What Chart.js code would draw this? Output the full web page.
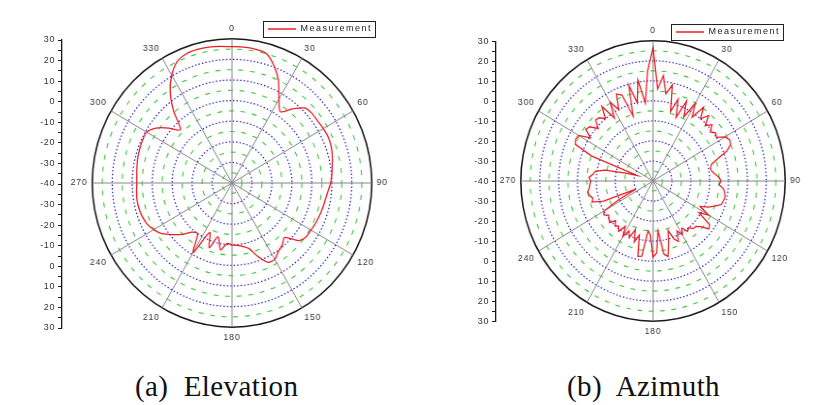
<!DOCTYPE html>
<html><head><meta charset="utf-8">
<script src="https://cdn.jsdelivr.net/npm/chart.js@4.4.1/dist/chart.umd.min.js"></script>
<style>
html,body{margin:0;padding:0;background:#fff;}
#wrap{position:relative;width:822px;height:405px;overflow:hidden;background:#fff;}
#wrap canvas{position:absolute;}
.cap{position:absolute;font-family:'Liberation Serif','DejaVu Serif',serif;font-size:29px;line-height:29px;letter-spacing:0.4px;white-space:pre;color:#111;}
</style></head><body>
<div id="wrap">
<canvas id="elevR" width="400" height="320" style="left:32px;top:24px;transform:scaleX(0.969);transform-origin:200px 160px;"></canvas>
<canvas id="aziR" width="400" height="312" style="left:453px;top:26px;transform:scaleX(0.943);transform-origin:200px 156px;"></canvas>
<canvas id="elevA" width="384" height="345" style="left:0px;top:0px;"></canvas>
<canvas id="aziA" width="358" height="345" style="left:434px;top:0px;"></canvas>
<div class="cap" id="capA" style="left:135px;top:372px;"></div>
<div class="cap" id="capB" style="left:567px;top:372px;"></div>
</div>
<script>
// ---- data ----
const elevAngles = [0,5,10,15,20,25,30,35,40,45,50,55,60,65,70,75,80,85,90,95,100,105,110,115,120,125,130,135,140,145,150,155,160,165,170,175,180,185,190,195,200,205,210,215,220,225,230,235,240,245,250,255,260,265,270,275,280,285,290,295,300,305,310,315,320,325,330,335,340,345,350,355];
const elevGain = [26.2,26.2,26.0,25.3,21.0,15.0,7.0,2.2,7.0,11.5,12.4,12.4,12.8,13.1,12.8,12.0,11.0,10.2,9.4,8.2,7.4,7.0,6.6,6.2,5.7,5.4,3.5,-2.7,-0.8,0.5,2.8,2.5,-2.0,-7.0,-8.7,-9.6,-10.0,-10.5,-7.0,-13.0,-6.5,-13.5,-1.0,-10.0,-8.9,-4.8,-1.0,2.9,5.3,7.0,7.8,8.2,8.3,8.0,7.7,7.9,8.3,8.8,9.1,9.4,9.4,6.5,1.5,-3.5,5.5,14.0,20.4,25.0,26.8,27.1,27.0,26.6];
const aziAngles = [0,3,6,9,12,15,18,21,24,27,30,33,36,39,42,45,48,51,54,57,60,63,66,69,72,75,78,81,84,87,90,93,96,99,102,105,108,111,114,117,120,123,126,129,132,135,138,141,144,147,150,153,156,159,162,165,168,171,174,177,180,183,186,189,192,195,198,201,204,207,210,213,216,219,222,225,228,231,234,237,240,243,246,249,252,255,258,261,264,267,270,273,276,279,282,285,288,291,294,297,300,303,306,309,312,315,318,321,324,327,330,333,336,339,342,345,348,351,354,357];
const aziGain = [26.5,6,13,4,9,-4,3,-6,3.5,-4,5,-2,5.5,0,4,-1,2,-1,1,0,4,5.5,5,2,-4,-8,-9,-8.5,-7,-5,-4,-5,-2.5,-1.5,-1,-1.5,-2,-5,-8,-12,-6,-11,-3,-2,-6,-8,-8,-10,-9,-12,-9,-12,-7,-9,-14,-8,-1.5,-3,-15,-4,-2,-13,-15,-2,-1.5,-12,-8,-14,-9,-12,-8,-13,-9,-11,-10,-12,-9,-10,-11,-9,-10,-20,-30,-12,-6,-7,-5.5,-5,-6,-6.5,-7,-6,-8,-9,-14,-25,-31,-5,5,6,5.5,-0.5,4,3,-1,3,2.5,0,6,-2.5,5.5,0,7.5,6,-6,9.5,0,11,-1,15];
const angleTicks = [0,30,60,90,120,150,180,210,240,270,300,330];
const axisLabels = ['30','20','10','0','-10','-20','-30','-40','-30','-20','-10','0','10','20','30'];
const legendLabel = 'Measurement';
const captions = ['(a)  Elevation', '(b)  Azimuth'];

// ---- style ----
const RED = '#ee1c25';
const FONT = "'Liberation Sans', Arial, sans-serif";

function gridColor(v) {
  if (v === 30) return '#1a1a1a';
  if (v === -40) return 'rgba(0,0,0,0)';
  return (Math.abs(v) % 10 === 0) ? '#2424b8' : '#3cc83c';
}
function gridWidth(v) {
  if (v === 30) return 1.6;
  if (v === -40) return 0;
  return (Math.abs(v) % 10 === 0) ? 1.25 : 1.1;
}
function gridDash(v) {
  if (v === 30) return [];
  return (Math.abs(v) % 10 === 0) ? [1.4, 2.2] : [5, 7];
}

const radarSpacing = {
  id: 'radarSpacing',
  beforeLayout(chart) { chart.ctx.letterSpacing = '0.8px'; },
  beforeDraw(chart) { chart.ctx.letterSpacing = '0.8px'; }
};

function makeRadar(id, angles, gains, tension) {
  new Chart(document.getElementById(id), {
    type: 'radar',
    data: {
      labels: angles.map(String),
      datasets: [{ label: legendLabel, data: gains, borderColor: RED, borderWidth: 1.3,
        pointRadius: 0, pointHoverRadius: 0, fill: false, tension: tension }]
    },
    options: {
      responsive: false, animation: false, events: [],
      plugins: { legend: { display: false }, tooltip: { enabled: false } },
      scales: {
        r: {
          min: -40, max: 30, beginAtZero: false,
          ticks: { display: false, stepSize: 5 },
          grid: { circular: true,
            color: c => c.tick ? gridColor(c.tick.value) : '#000',
            lineWidth: c => c.tick ? gridWidth(c.tick.value) : 0 },
          border: { dash: c => c.tick ? gridDash(c.tick.value) : [] },
          angleLines: { display: true, color: '#858585',
            lineWidth: c => angleTicks.includes(angles[c.index]) ? 1 : 0 },
          pointLabels: { display: true, padding: 5, color: '#333',
            font: { size: 9, family: FONT },
            callback: (lab) => angleTicks.includes(Number(lab)) ? lab : '' }
        }
      }
    },
    plugins: [radarSpacing]
  });
}

const axisPlugin = {
  id: 'axisPlugin',
  beforeLayout(chart) { chart.ctx.letterSpacing = '1.5px'; },
  beforeDraw(chart) { chart.ctx.letterSpacing = '1.5px'; },
  beforeDatasetsDraw(chart) { chart.ctx.letterSpacing = '0.6px'; },
  afterDraw(chart) {
    const lg = chart.legend;
    const hb = lg && lg.legendHitBoxes && lg.legendHitBoxes[0];
    if (!hb) return;
    const ctx = chart.ctx;
    ctx.save();
    ctx.strokeStyle = '#222';
    ctx.lineWidth = 1;
    ctx.setLineDash([]);
    ctx.strokeRect(Math.round(hb.left - 5) + 0.5, Math.round(hb.top - 4) + 0.5,
                   Math.round(hb.width + 8), Math.round(hb.height + 7));
    ctx.restore();
  }
};

function makeAxis(id, pad, legendMaxH) {
  new Chart(document.getElementById(id), {
    type: 'scatter',
    data: { datasets: [{ label: legendLabel, data: [], borderColor: RED, backgroundColor: RED, borderWidth: 1.3 }] },
    options: {
      responsive: false, animation: false, events: [],
      layout: { padding: pad },
      plugins: {
        tooltip: { enabled: false },
        legend: { display: true, position: 'top', align: 'end', maxHeight: legendMaxH,
          labels: { usePointStyle: true, pointStyle: 'line', pointStyleWidth: 28, padding: 4,
            color: '#222', font: { size: 9, family: FONT } } }
      },
      scales: {
        x: { display: false },
        y: {
          min: -70, max: 70,
          afterFit: s => { s.width = 30; },
          ticks: { z: 1, stepSize: 5, autoSkip: false, padding: 3, color: '#333',
            font: { size: 9, family: FONT },
            callback: (v, i) => (i % 2 === 0) ? axisLabels[i / 2] : '' },
          grid: { drawOnChartArea: false, drawTicks: true, tickLength: 4, color: '#1a1a1a', lineWidth: 1 },
          border: { display: true, color: '#1a1a1a', width: 1.3 }
        }
      }
    },
    plugins: [axisPlugin]
  });
}

makeRadar('elevR', elevAngles, elevGain, 0.25);
makeRadar('aziR', aziAngles, aziGain, 0);
makeAxis('elevA', { left: 32, right: 8, top: 20.5, bottom: 17 }, 19.5);
makeAxis('aziA', { left: 32, right: 8, top: 23.5, bottom: 23.3 }, 18.2);
document.getElementById('capA').textContent = captions[0];
document.getElementById('capB').textContent = captions[1];
</script>
</body></html>
